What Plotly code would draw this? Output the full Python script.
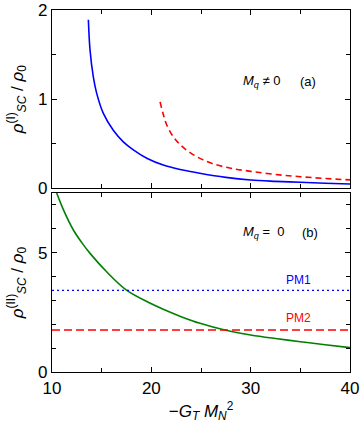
import plotly.graph_objects as go
from plotly.subplots import make_subplots

# Top panel (a): M_q != 0
x_pm1_a = [13.66, 13.83, 14.16, 14.5, 15.17, 16.17, 17.18, 18.19, 19.54, 21.2, 22.9, 25, 27.5, 30, 32.5, 35, 37.5, 40]
y_pm1_a = [1.89, 1.55, 1.25, 1.065, 0.84, 0.65, 0.52, 0.43, 0.336, 0.26, 0.21, 0.165, 0.122, 0.093, 0.078, 0.067, 0.057, 0.048]
x_pm2_a = [20.88, 21.2, 21.55, 22.2, 22.9, 23.9, 25, 26.2, 28, 30, 32.5, 35, 37.5, 40]
y_pm2_a = [0.97, 0.83, 0.71, 0.58, 0.49, 0.40, 0.33, 0.275, 0.225, 0.19, 0.155, 0.13, 0.11, 0.094]

# Bottom panel (b): M_q = 0
x_b = [10.47, 11.2, 12.15, 13.0, 13.83, 15.5, 17.5, 19.9, 21.2, 23.0, 24.9, 27.4, 30, 32.5, 35, 37.5, 40]
y_b = [7.5, 6.75, 5.95, 5.42, 4.97, 4.2, 3.43, 2.88, 2.63, 2.32, 2.04, 1.76, 1.55, 1.40, 1.27, 1.14, 1.02]
x_const = [10, 40]
pm1_level = [3.42, 3.42]
pm2_level = [1.76, 1.76]

x_ticks = [10, 20, 30, 40]

fig = make_subplots(rows=2, cols=1, shared_xaxes=True, vertical_spacing=0.013)

fig.add_trace(go.Scatter(x=x_pm1_a, y=y_pm1_a, mode="lines", line=dict(color="#0000ff", width=1.6, shape="spline")), row=1, col=1)
fig.add_trace(go.Scatter(x=x_pm2_a, y=y_pm2_a, mode="lines", line=dict(color="#ff0000", width=1.6, dash="6px,4px", shape="spline")), row=1, col=1)
fig.add_trace(go.Scatter(x=x_b, y=y_b, mode="lines", line=dict(color="#008000", width=1.6, shape="spline")), row=2, col=1)
fig.add_trace(go.Scatter(x=x_const, y=pm1_level, mode="lines", line=dict(color="#0000ff", width=1.4, dash="2px,3px")), row=2, col=1)
fig.add_trace(go.Scatter(x=x_const, y=pm2_level, mode="lines", line=dict(color="#ff0000", width=1.4, dash="8px,4px")), row=2, col=1)

axis_common = dict(showline=True, linecolor="black", linewidth=1.2, mirror="allticks", automargin=False,
                   ticks="inside", ticklen=5, tickcolor="black", showgrid=False, zeroline=False,
                   tickfont=dict(size=17, color="black"))

fig.update_xaxes(**axis_common, range=[10, 40], tickvals=x_ticks,
                 minor=dict(dtick=5, tick0=10, ticks="inside", ticklen=4, tickcolor="black"))
fig.update_xaxes(showticklabels=False, row=1, col=1)
fig.update_xaxes(title=dict(text="−<i>G<sub>T</sub> M<sub>N</sub></i><sup>2</sup>", font=dict(size=17, color="black"), standoff=8), row=2, col=1)

fig.update_yaxes(**axis_common)
fig.update_yaxes(range=[0, 2], dtick=1, minor=dict(dtick=0.5, ticks="inside", ticklen=4, tickcolor="black"),
                 title=dict(text="<i>ρ</i><sup>(I)</sup><sub><i>SC</i></sub> / <i>ρ</i><sub>0</sub>", font=dict(size=17, color="black"), standoff=10),
                 domain=[0.5075, 1], row=1, col=1)
fig.update_yaxes(range=[0, 7.5], dtick=5, minor=dict(dtick=1, ticks="inside", ticklen=4, tickcolor="black"),
                 title=dict(text="<i>ρ</i><sup>(II)</sup><sub><i>SC</i></sub> / <i>ρ</i><sub>0</sub>", font=dict(size=17, color="black"), standoff=10),
                 domain=[0, 0.4945], row=2, col=1)

ann_font = dict(size=13, color="black", family="Liberation Sans, Arial, sans-serif")
fig.add_annotation(x=29.0, y=1.195, xref="x", yref="y", text="<i>M<sub>q</sub></i> ≠ 0", showarrow=False, xanchor="left", font=ann_font)
fig.add_annotation(x=35.8, y=1.195, xref="x", yref="y", text="(a)", showarrow=False, font=ann_font)
fig.add_annotation(x=29.0, y=5.84, xref="x2", yref="y2", text="<i>M<sub>q</sub></i> =  0", showarrow=False, xanchor="left", font=ann_font)
fig.add_annotation(x=36.0, y=5.84, xref="x2", yref="y2", text="(b)", showarrow=False, font=ann_font)
fig.add_annotation(x=34.8, y=3.85, xref="x2", yref="y2", text="PM1", showarrow=False, font=dict(size=12, color="#0000ff", family="Liberation Sans, Arial, sans-serif"))
fig.add_annotation(x=34.8, y=2.27, xref="x2", yref="y2", text="PM2", showarrow=False, font=dict(size=12, color="#ff0000", family="Liberation Sans, Arial, sans-serif"))

fig.update_layout(width=362, height=429, margin=dict(l=52, r=12, t=10, b=57),
                  plot_bgcolor="white", paper_bgcolor="white", showlegend=False,
                  font=dict(family="Liberation Sans, Arial, sans-serif", color="black"))

fig.write_html("out.html", config={"displayModeBar": False}, post_script="document.body.style.margin='0';")
